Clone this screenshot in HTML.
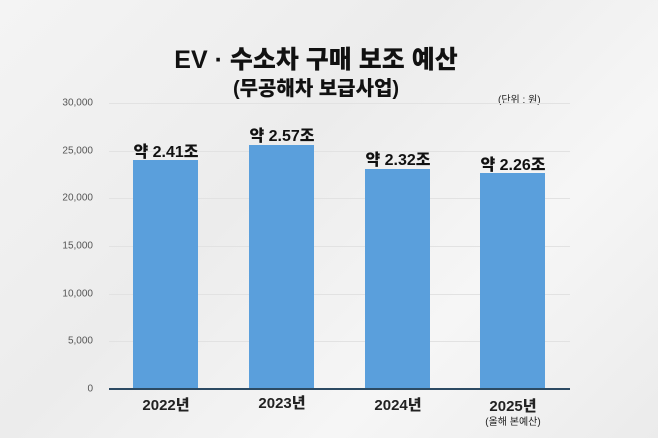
<!DOCTYPE html>
<html><head><meta charset="utf-8"><style>
html,body{margin:0;padding:0}
body{width:658px;height:438px;background:linear-gradient(135deg,#f4f4f4 0%,#ececec 40%,#f6f6f6 70%,#ebebeb 100%);position:relative;overflow:hidden;font-family:"Liberation Sans","Noto Sans CJK KR",sans-serif}
.t{position:absolute;white-space:nowrap}
.yl{position:absolute;right:565px;font-size:10px;color:#555;transform:translateY(-50%)}
.g{position:absolute;left:109px;width:461px;height:1px;background:#e2e2e2}
.bar{position:absolute;width:65px;background:#5a9fdc;bottom:49px}
.v{position:absolute;width:116px;text-align:center;font-weight:900;font-size:16px;color:#111;transform:translateX(-25px)}
.x{position:absolute;width:116px;text-align:center;font-weight:900;font-size:15px;color:#222;transform:translateX(-25px)}
</style></head><body>
<div class="t" style="left:0;width:632px;text-align:center;top:40px;font-size:25px;font-weight:900;color:#111">EV · 수소차 구매 보조 예산</div>
<div class="t" style="left:0;width:632px;text-align:center;top:72px;font-size:20px;font-weight:900;color:#111">(무공해차 보급사업)</div>
<div class="t" style="left:498px;top:91px;font-size:10px;color:#222">(단위 : 원)</div>
<div class="g" style="top:103px"></div><div class="g" style="top:151px"></div><div class="g" style="top:198px"></div><div class="g" style="top:246px"></div><div class="g" style="top:294px"></div><div class="g" style="top:341px"></div>
<div class="yl" style="top:103px">30,000</div><div class="yl" style="top:151px">25,000</div><div class="yl" style="top:198px">20,000</div><div class="yl" style="top:246px">15,000</div><div class="yl" style="top:294px">10,000</div><div class="yl" style="top:341px">5,000</div><div class="yl" style="top:389px">0</div>
<div class="bar" style="left:133px;top:160px"></div>
<div class="bar" style="left:249px;top:145px"></div>
<div class="bar" style="left:365px;top:169px"></div>
<div class="bar" style="left:480px;top:173px"></div>
<div style="position:absolute;left:109px;width:461px;top:388px;height:2px;background:#2c4a63"></div>
<div class="v" style="left:133px;top:138px">약 2.41조</div>
<div class="v" style="left:249px;top:122px">약 2.57조</div>
<div class="v" style="left:365px;top:146px">약 2.32조</div>
<div class="v" style="left:480px;top:151px">약 2.26조</div>
<div class="x" style="left:133px;top:394px">2022년</div>
<div class="x" style="left:249px;top:392px">2023년</div>
<div class="x" style="left:365px;top:394px">2024년</div>
<div class="x" style="left:480px;top:395px">2025년</div>
<div class="t" style="left:480px;width:116px;transform:translateX(-25px);text-align:center;top:413px;font-size:10px;color:#222">(올해 본예산)</div>
</body></html>
